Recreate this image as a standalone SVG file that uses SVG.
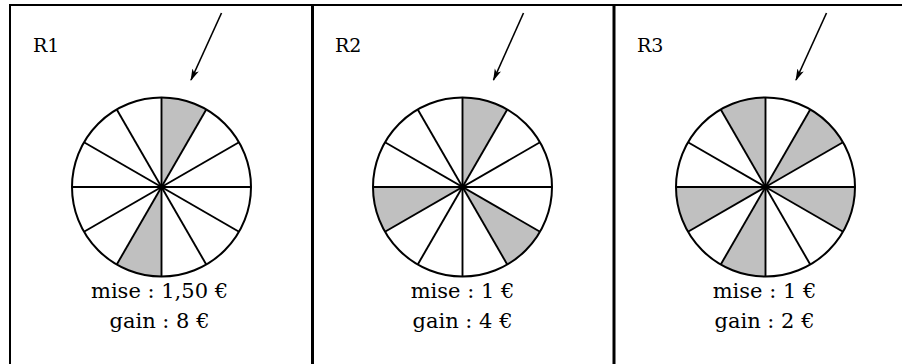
<svg xmlns="http://www.w3.org/2000/svg" xmlns:xlink="http://www.w3.org/1999/xlink" width="902" height="364" viewBox="0 0 902 364">
  <style>
    .frame { stroke: #000; fill: none; }
    .rim { fill: none; stroke: #000; stroke-width: 2; }
    .spoke { stroke: #000; stroke-width: 1.9; fill: none; }
    .shade { fill: #c0c0c0; stroke: none; }
    .lbl { font-family: "DejaVu Serif", serif; font-size: 19px; fill: #000; }
    .txt { font-family: "DejaVu Serif", serif; font-size: 21px; fill: #000; text-anchor: middle; }
    .arrow { stroke: #000; stroke-width: 1.6; fill: none; marker-end: url(#ah); }
  </style>
  <defs>
    <marker id="ah" viewBox="0 0 12 8" refX="11" refY="4" markerWidth="12" markerHeight="8" markerUnits="userSpaceOnUse" orient="auto">
      <path d="M0,0.5 L12,4 L0,7.5 L3,4 Z" fill="#000"/>
    </marker>
    <path id="sec" class="shade" d="M0,0 L0,-89.5 A89.5,89.5 0 0,1 44.75,-77.51 Z"/>
    <g id="wheel-lines">
      <circle class="rim" cx="0" cy="0" r="89.5"/>
      <line class="spoke" x1="-89.5" y1="0" x2="89.5" y2="0"/>
      <line class="spoke" x1="0" y1="-89.5" x2="0" y2="89.5"/>
      <line class="spoke" x1="-77.51" y1="-44.75" x2="77.51" y2="44.75"/>
      <line class="spoke" x1="-77.51" y1="44.75" x2="77.51" y2="-44.75"/>
      <line class="spoke" x1="-44.75" y1="-77.51" x2="44.75" y2="77.51"/>
      <line class="spoke" x1="-44.75" y1="77.51" x2="44.75" y2="-77.51"/>
      <circle cx="0" cy="0" r="2.2" fill="#000"/>
    </g>
  </defs>

  <g id="frame">
    <line class="frame" x1="9" y1="5" x2="902" y2="5" stroke-width="2"/>
    <line class="frame" x1="10" y1="4" x2="10" y2="364" stroke-width="2"/>
    <line class="frame" x1="312.5" y1="4" x2="312.5" y2="364" stroke-width="3"/>
    <line class="frame" x1="614" y1="4" x2="614" y2="364" stroke-width="3"/>
  </g>

  <g id="R1">
    <text class="lbl" x="33" y="52">R1</text>
    <g transform="translate(161.5,187)">
      <circle cx="0" cy="0" r="89.5" fill="#fff"/>
      <use xlink:href="#sec"/>
      <use xlink:href="#sec" transform="rotate(180)"/>
      <use xlink:href="#wheel-lines"/>
    </g>
    <text class="txt" x="159.5" y="298">mise : 1,50 €</text>
    <text class="txt" x="159.5" y="328">gain : 8 €</text>
  </g>

  <g id="R2">
    <text class="lbl" x="335" y="52">R2</text>
    <g transform="translate(462.5,187)">
      <circle cx="0" cy="0" r="89.5" fill="#fff"/>
      <use xlink:href="#sec"/>
      <use xlink:href="#sec" transform="rotate(120)"/>
      <use xlink:href="#sec" transform="rotate(240)"/>
      <use xlink:href="#wheel-lines"/>
    </g>
    <text class="txt" x="462.5" y="298">mise : 1 €</text>
    <text class="txt" x="462.5" y="328">gain : 4 €</text>
  </g>

  <g id="R3">
    <text class="lbl" x="637" y="52">R3</text>
    <g transform="translate(765.5,187)">
      <circle cx="0" cy="0" r="89.5" fill="#fff"/>
      <use xlink:href="#sec" transform="rotate(30)"/>
      <use xlink:href="#sec" transform="rotate(90)"/>
      <use xlink:href="#sec" transform="rotate(180)"/>
      <use xlink:href="#sec" transform="rotate(240)"/>
      <use xlink:href="#sec" transform="rotate(330)"/>
      <use xlink:href="#wheel-lines"/>
    </g>
    <text class="txt" x="764.5" y="298">mise : 1 €</text>
    <text class="txt" x="764.5" y="328">gain : 2 €</text>
  </g>

  <g id="connectors">
    <line class="arrow" x1="221.5" y1="13" x2="191" y2="80"/>
    <line class="arrow" x1="523.5" y1="13" x2="493.5" y2="80"/>
    <line class="arrow" x1="826.5" y1="13" x2="796" y2="80"/>
  </g>
</svg>
